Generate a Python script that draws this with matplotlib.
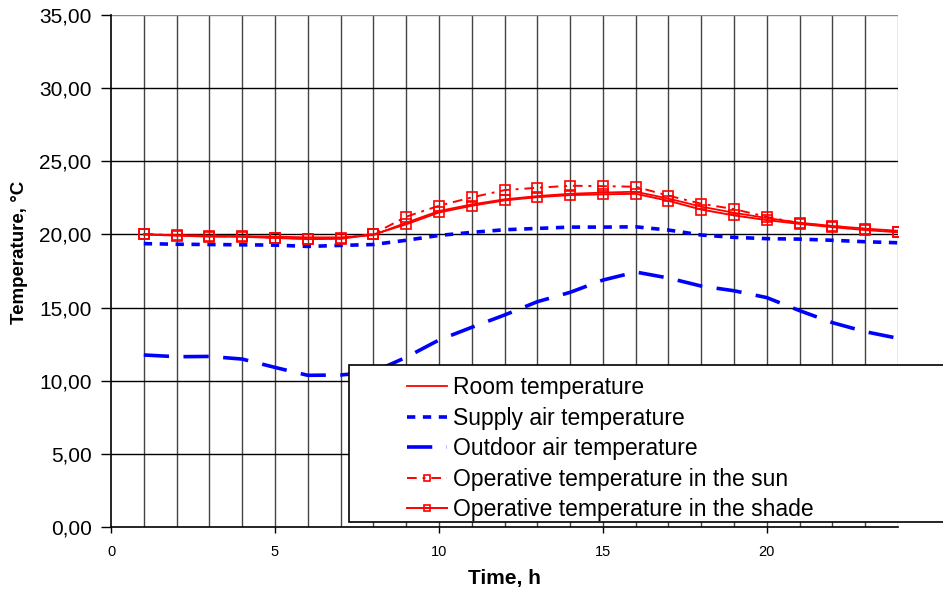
import matplotlib
matplotlib.use("Agg")
import matplotlib.pyplot as plt
from matplotlib.patches import Rectangle
from matplotlib.ticker import FuncFormatter, MultipleLocator

plt.rcParams['font.family'] = ['Liberation Sans', 'DejaVu Sans']

hours = list(range(1, 25))

room_temp = [20.00, 19.95, 19.92, 19.88, 19.85, 19.80, 19.80, 19.95, 20.80, 21.60,
             22.05, 22.40, 22.62, 22.78, 22.86, 22.92, 22.45, 21.90, 21.48, 21.12,
             20.80, 20.58, 20.40, 20.25]
supply_air = [19.37, 19.33, 19.31, 19.29, 19.27, 19.18, 19.25, 19.31, 19.60, 19.93,
              20.14, 20.32, 20.41, 20.50, 20.50, 20.52, 20.30, 19.96, 19.80, 19.71,
              19.68, 19.60, 19.50, 19.43]
outdoor_air = [11.76, 11.64, 11.66, 11.48, 10.91, 10.37, 10.39, 10.60, 11.60, 12.78,
               13.65, 14.49, 15.40, 16.04, 16.88, 17.43, 17.02, 16.47, 16.15, 15.68,
               14.79, 13.97, 13.35, 12.90]
operative_sun = [20.03, 19.94, 19.87, 19.87, 19.78, 19.71, 19.73, 20.03, 21.21, 21.96,
                 22.53, 23.03, 23.19, 23.33, 23.30, 23.26, 22.65, 22.10, 21.73, 21.20,
                 20.76, 20.57, 20.37, 20.18]
operative_shade = [20.00, 19.92, 19.85, 19.84, 19.76, 19.68, 19.70, 20.00, 20.69, 21.50,
                   21.96, 22.33, 22.55, 22.69, 22.74, 22.78, 22.30, 21.70, 21.30, 20.98,
                   20.72, 20.50, 20.30, 20.15]

labels = ["Room temperature", "Supply air temperature", "Outdoor air temperature",
          "Operative temperature in the sun", "Operative temperature in the shade"]

W, H = 943, 590
fig = plt.figure(figsize=(W / 100, H / 100), dpi=100)
ax = fig.add_axes([111 / W, (H - 527) / H, (898 - 111) / W, (527 - 15) / H])

ax.set_xlim(0, 24)
ax.set_ylim(0, 35)

# grid: vertical line each hour, horizontal every 5 degrees
for h in hours:
    ax.axvline(h, color='#444444' if h < 24 else '#999999', lw=1.0, zorder=1)
for v in range(5, 40, 5):
    ax.axhline(v, color='black' if v < 35 else '#888888', lw=1.0, zorder=1)

red = '#FF0000'
blue = '#0000FF'

l_room, = ax.plot(hours, room_temp, color=red, lw=1.3, zorder=3)
l_sup, = ax.plot(hours, supply_air, color=blue, lw=2.6, zorder=3,
                 dashes=(2.3, 2.1), dash_capstyle='butt')
l_out, = ax.plot(hours, outdoor_air, color=blue, lw=2.6, zorder=3,
                 dashes=(7.0, 4.0), dash_capstyle='butt')
l_sun, = ax.plot(hours, operative_sun, color=red, lw=1.4, zorder=4,
                 dashes=(5, 3, 1.5, 3), marker='s', ms=6.5, mfc='none', mew=1.2)
l_shade, = ax.plot(hours, operative_shade, color=red, lw=1.4, zorder=4,
                   marker='s', ms=6.5, mfc='none', mew=1.2)

for side in ('top', 'right'):
    ax.spines[side].set_visible(False)
for side in ('left', 'bottom'):
    ax.spines[side].set_color('black')
    ax.spines[side].set_linewidth(1.2)

ax.yaxis.set_major_locator(MultipleLocator(5))
ax.yaxis.set_major_formatter(FuncFormatter(lambda v, p: f"{v:.2f}".replace('.', ',')))
ax.xaxis.set_major_locator(MultipleLocator(5))
ax.xaxis.set_major_formatter(FuncFormatter(lambda v, p: f"{int(v)}" if v < 24 else ""))
ax.tick_params(axis='y', direction='out', length=7, width=1, labelsize=15, pad=7)
ax.tick_params(axis='x', direction='out', length=4, width=1, labelsize=10.5, pad=9)

ax.set_ylabel("Temperature, °C", fontsize=13.5, fontweight='bold')
ax.yaxis.set_label_coords(-0.106, 0.537)
ax.set_xlabel("Time, h", fontsize=15, fontweight='bold', labelpad=7)

# legend box reaching past the right edge of the plot area
box = Rectangle((349 / W, (H - 522) / H), (W + 10 - 349) / W, (522 - 365) / H,
                transform=fig.transFigure, facecolor='white', edgecolor='black',
                lw=1.2, zorder=6, clip_on=False)
ax.add_artist(box)

leg = ax.legend([l_room, l_sup, l_out, l_sun, l_shade], labels,
                loc='upper left', bbox_to_anchor=(407 / W, (H - 376) / H),
                bbox_transform=fig.transFigure, frameon=False,
                fontsize=16.5, handlelength=1.75, handletextpad=0.26,
                labelspacing=0.33, numpoints=1, markerscale=0.6,
                borderaxespad=0, borderpad=0)
leg.set_zorder(7)

fig.savefig("out.png", dpi=100)
